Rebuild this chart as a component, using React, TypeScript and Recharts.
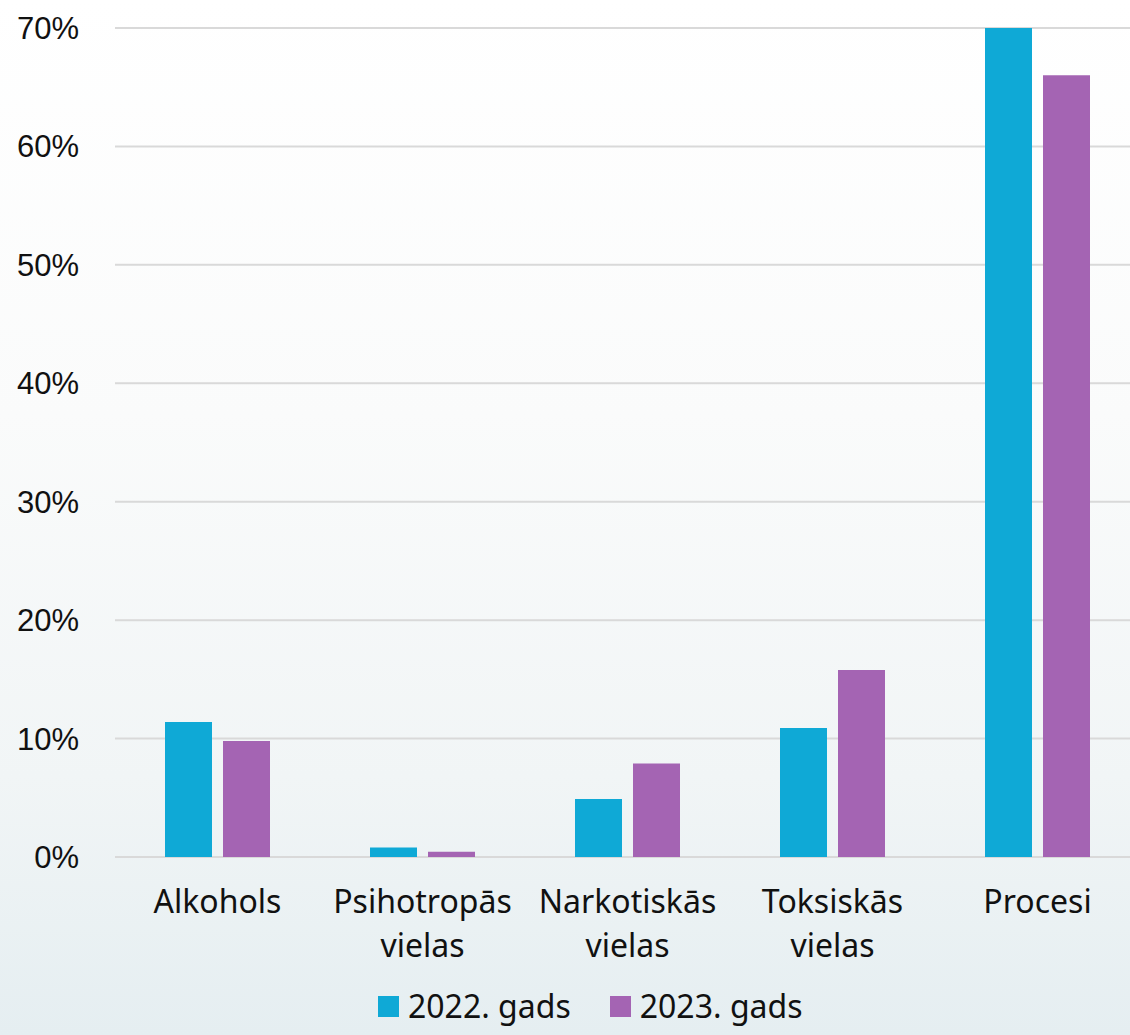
import React from 'react';
import { BarChart, Bar, XAxis, YAxis, CartesianGrid, Legend } from 'recharts';

const categories = ['Alkohols', 'Psihotropās\nvielas', 'Narkotiskās\nvielas', 'Toksiskās\nvielas', 'Procesi'];
const values2022 = [11.4, 0.8, 4.9, 10.9, 70.2];
const values2023 = [9.8, 0.45, 7.9, 15.8, 66.0];
const yTicks = [0, 10, 20, 30, 40, 50, 60, 70];

const seriesNames = ['2022. gads', '2023. gads'];
const colors = ['#0fa9d6', '#a464b3'];

const data = categories.map((name, i) => ({
  name,
  y2022: values2022[i],
  y2023: values2023[i],
}));

const labelFont = '"Noto Sans", sans-serif';

const CategoryTick: React.FC<any> = ({ x, y, payload }) => {
  const lines = String(payload.value).split('\n');
  return (
    <text x={x} y={y} textAnchor="middle" fontFamily={labelFont} fontSize={32} fill="#111">
      {lines.map((line, i) => (
        <tspan key={i} x={x} dy={i === 0 ? 48 : 44}>
          {line}
        </tspan>
      ))}
    </text>
  );
};

const LegendContent: React.FC = () => (
  <div
    style={{
      display: 'flex',
      alignItems: 'center',
      paddingLeft: 378,
      fontFamily: labelFont,
      fontSize: 32,
      lineHeight: '34px',
      color: '#111',
    }}
  >
    {seriesNames.map((s, i) => (
      <div key={s} style={{ display: 'flex', alignItems: 'center', marginRight: 39 }}>
        <span style={{ width: 21, height: 21, background: colors[i], display: 'inline-block', marginRight: 9 }} />
        <span>{s}</span>
      </div>
    ))}
  </div>
);

const App: React.FC = () => {
  return (
    <div
      style={{
        position: 'absolute',
        top: 0,
        left: 0,
        width: 1130,
        height: 1035,
        overflow: 'hidden',
        background: 'linear-gradient(to bottom, #ffffff 0%, #fafbfb 40%, #f1f5f6 75%, #e5eef1 100%)',
      }}
    >
      <BarChart
        width={1130}
        height={1035}
        data={data}
        margin={{ top: 28, right: -10, bottom: 0, left: 0 }}
        barCategoryGap={50}
        barGap={11}
      >
        <CartesianGrid vertical={false} stroke="#d9d9d9" strokeWidth={2} />
        <XAxis dataKey="name" axisLine={false} tickLine={false} height={136} tick={<CategoryTick />} interval={0} />
        <YAxis
          width={115}
          domain={[0, 70]}
          ticks={yTicks}
          allowDataOverflow
          axisLine={false}
          tickLine={false}
          tickSize={0}
          tickMargin={36}
          tickFormatter={(v: number) => `${v}%`}
          tick={{ fontFamily: '"Liberation Sans", Arial, sans-serif', fontSize: 31, fill: '#111' }}
        />
        <Legend verticalAlign="bottom" height={42} content={<LegendContent />} wrapperStyle={{ bottom: 4 }} />
        <Bar dataKey="y2022" name={seriesNames[0]} fill={colors[0]} isAnimationActive={false} />
        <Bar dataKey="y2023" name={seriesNames[1]} fill={colors[1]} isAnimationActive={false} />
      </BarChart>
    </div>
  );
};

export default App;
